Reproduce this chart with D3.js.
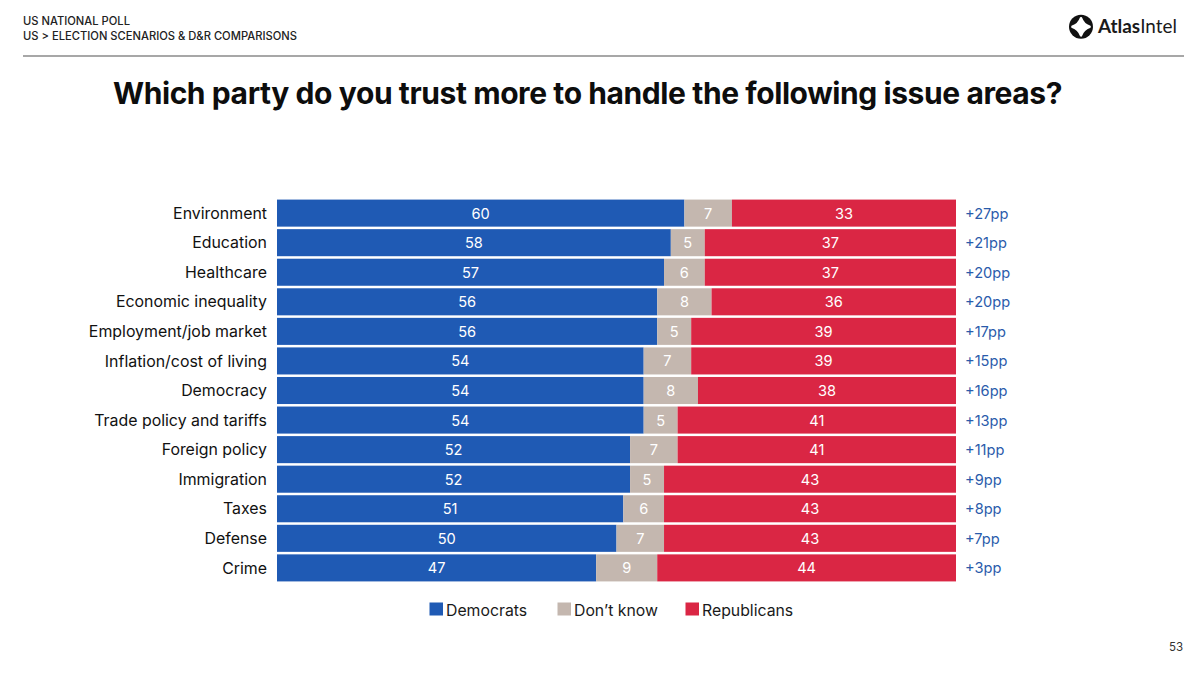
<!DOCTYPE html>
<html><head><meta charset="utf-8">
<script src="https://cdnjs.cloudflare.com/ajax/libs/d3/7.8.5/d3.min.js"></script>
<style>
html,body{margin:0;padding:0;background:#fff}
svg{display:block}
text{font-family:Inter,"Noto Sans",sans-serif}
.axis path,.axis line{display:none}
</style></head><body>
<svg id="c" width="1200" height="677"></svg>
<script>
const categories=["Environment","Education","Healthcare","Economic inequality","Employment/job market","Inflation/cost of living","Democracy","Trade policy and tariffs","Foreign policy","Immigration","Taxes","Defense","Crime"];
const democrats=[60,58,57,56,56,54,54,54,52,52,51,50,47];
const dontKnow=[7,5,6,8,5,7,8,5,7,5,6,7,9];
const republicans=[33,37,37,36,39,39,38,41,41,43,43,43,44];
const margins=["+27pp","+21pp","+20pp","+20pp","+17pp","+15pp","+16pp","+13pp","+11pp","+9pp","+8pp","+7pp","+3pp"];
const seriesNames=["Democrats","Don’t know","Republicans"];
const seriesColors=["#1f5ab4","#c4b7af","#da2644"];
const seriesValues=[democrats,dontKnow,republicans];

const svg=d3.select("#c");
const x=d3.scaleLinear().domain([0,100]).range([277,956]);
const y=d3.scaleBand().domain(categories).range([198.4,582.6]).paddingInner(0.085).paddingOuter(0.04);

// header
svg.append("text").attr("x",23).attr("y",25).attr("font-size",11.2).attr("font-weight",500).attr("fill","#222").text("US NATIONAL POLL");
svg.append("text").attr("x",23).attr("y",40).attr("font-size",11.2).attr("font-weight",500).attr("fill","#222").text("US > ELECTION SCENARIOS & D&R COMPARISONS");
svg.append("line").attr("x1",23).attr("x2",1184).attr("y1",56).attr("y2",56).attr("stroke","#8a8a8a").attr("stroke-width",1.3);
svg.append("text").attr("x",587.5).attr("y",104).attr("text-anchor","middle").attr("font-size",30).attr("font-weight",700).attr("letter-spacing",-0.41).attr("fill","#0d0d0d").text("Which party do you trust more to handle the following issue areas?");

// logo
const logo=svg.append("g").attr("transform","translate(1081,26.8)");
logo.append("circle").attr("r",12).attr("fill","#111");
logo.append("path").attr("d","M0,-8.6 Q2.2,-2.2 8.6,0 Q2.2,2.2 0,8.6 Q-2.2,2.2 -8.6,0 Q-2.2,-2.2 0,-8.6Z").attr("fill","#fff").attr("stroke","#fff").attr("stroke-width",2.5).attr("stroke-linejoin","round");
const lt=svg.append("text").attr("x",1098).attr("y",33.4).attr("font-size",18.9).attr("fill","#1a1a1a").style("font-family","Lato");
lt.append("tspan").attr("font-weight",700).text("Atlas");
lt.append("tspan").attr("font-weight",400).text("Intel");

// bars
categories.forEach((c,i)=>{
  let cum=0;
  const segs=seriesValues.map((s,k)=>{const d={v:s[i],x0:cum,k};cum+=s[i];return d;});
  const g=svg.append("g");
  g.selectAll("rect").data(segs).join("rect")
    .attr("x",d=>x(d.x0)).attr("width",d=>x(d.x0+d.v)-x(d.x0))
    .attr("y",y(c)).attr("height",y.bandwidth()).attr("fill",d=>seriesColors[d.k]);
  g.selectAll("text").data(segs).join("text")
    .attr("x",d=>x(d.x0+d.v/2)).attr("y",y(c)+y.bandwidth()/2+5.5)
    .attr("text-anchor","middle").attr("font-size",14.6).attr("font-weight",400).attr("fill","#fff").text(d=>d.v);
  svg.append("text").attr("x",965).attr("y",y(c)+y.bandwidth()/2+5.5)
    .attr("font-size",14.6).attr("font-weight",400).attr("fill","#2a5bab").text(margins[i]);
});

// category axis
const ax=svg.append("g").attr("class","axis").attr("transform","translate(267,0.6)")
  .call(d3.axisLeft(y).tickSize(0).tickPadding(0));
ax.selectAll("text").attr("font-size",15.9).attr("font-weight",400).attr("fill","#111").style("font-family","Inter");

// legend
const lx=[429,557,685];
seriesNames.forEach((n,i)=>{
  svg.append("rect").attr("x",lx[i]+0.5).attr("y",602.5).attr("width",13.5).attr("height",13).attr("fill",seriesColors[i]);
  svg.append("text").attr("x",lx[i]+17).attr("y",615.5).attr("font-size",15.8).attr("font-weight",400).attr("fill","#1a1a1a").text(n);
});
// page
svg.append("text").attr("x",1183).attr("y",651).attr("text-anchor","end").attr("font-size",11.5).attr("fill","#333").text("53");
</script>
</body></html>
